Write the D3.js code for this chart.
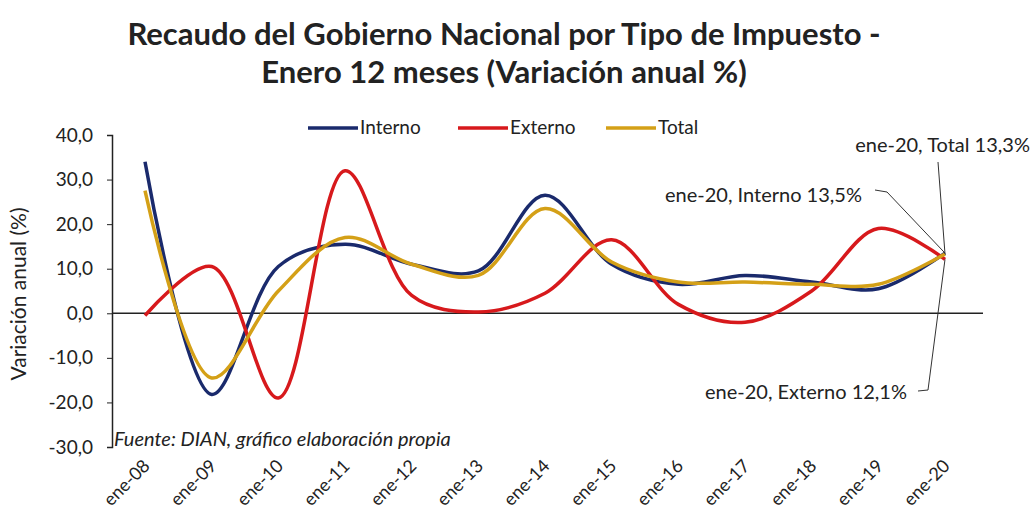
<!DOCTYPE html>
<html>
<head>
<meta charset="utf-8">
<script src="https://cdn.jsdelivr.net/npm/d3@7"></script>
<style>
  body { margin: 0; background: #fff; }
  svg text { font-family: Lato, "Open Sans", sans-serif; fill: #222; }
</style>
</head>
<body>
<div id="chart"></div>
<script>
var categories = ["ene-08","ene-09","ene-10","ene-11","ene-12","ene-13","ene-14","ene-15","ene-16","ene-17","ene-18","ene-19","ene-20"];
var interno = [34.0, -18.2, 10.5, 15.5, 11.0, 9.5, 26.5, 11.0, 6.5, 8.5, 7.0, 5.5, 13.5];
var externo = [-0.5, 10.5, -19.0, 32.0, 4.0, 0.3, 4.5, 16.5, 2.0, -2.0, 5.0, 19.0, 12.1];
var total = [27.5, -14.5, 5.0, 17.0, 11.0, 8.5, 23.5, 11.5, 7.0, 7.0, 6.5, 6.5, 13.3];
var yTicks = [40, 30, 20, 10, 0, -10, -20, -30];

var SERIES = [
  {name: "Interno", values: interno, color: "#1a2a6c"},
  {name: "Externo", values: externo, color: "#d7191c"},
  {name: "Total", values: total, color: "#d4a017"}
];

var W = 1034, H = 520;
var svg = d3.select("#chart").append("svg").attr("width", W).attr("height", H);

var x = d3.scalePoint().domain(categories).range([145, 945]);
var y = d3.scaleLinear().domain([-30, 40]).range([447, 135]);
var fmt = function(d){ return d3.format(".1f")(d).replace("\u2212", "-").replace(".", ","); };

// title
svg.append("text").attr("x", 504).attr("y", 45).attr("text-anchor", "middle")
  .style("font-size", "31px").style("font-weight", "bold")
  .text("Recaudo del Gobierno Nacional por Tipo de Impuesto -");
svg.append("text").attr("x", 504).attr("y", 83).attr("text-anchor", "middle")
  .style("font-size", "31px").style("font-weight", "bold")
  .text("Enero 12 meses (Variación anual %)");

// y axis
var yAxis = svg.append("g").attr("transform", "translate(112,0)")
  .call(d3.axisLeft(y).tickValues(yTicks).tickFormat(fmt).tickSize(5).tickPadding(14));
yAxis.select(".domain").attr("stroke", "#222").attr("stroke-width", 1.5);
yAxis.selectAll(".tick line").attr("stroke", "#222");
yAxis.selectAll("text").style("font-size", "19px").style("font-family", "Lato, sans-serif");

svg.append("text").attr("transform", "translate(26,294) rotate(-90)")
  .attr("text-anchor", "middle").style("font-size", "21px")
  .text("Variación anual (%)");

// zero line
svg.append("line").attr("x1", 112).attr("x2", 983).attr("y1", y(0)).attr("y2", y(0))
  .attr("stroke", "#222").attr("stroke-width", 1.5);

// x labels
svg.append("g").selectAll("text").data(categories).enter().append("text")
  .attr("transform", function(d){ return "translate(" + (x(d) + 6) + ",467) rotate(-45)"; })
  .attr("text-anchor", "end").style("font-size", "18px")
  .text(function(d){ return d; });

// lines
var line = d3.line().x(function(d, i){ return x(categories[i]); }).y(function(d){ return y(d); })
  .curve(d3.curveCatmullRom.alpha(0.5));
svg.append("g").selectAll("path").data(SERIES).enter().append("path")
  .attr("d", function(s){ return line(s.values); })
  .attr("fill", "none").attr("stroke", function(s){ return s.color; })
  .attr("stroke-width", 3.5);

// legend
var legX = [308, 458, 606];
var leg = svg.append("g").selectAll("g").data(SERIES).enter().append("g")
  .attr("transform", function(s, i){ return "translate(" + legX[i] + ",128)"; });
leg.append("line").attr("x1", 0).attr("x2", 50).attr("stroke", function(s){ return s.color; })
  .attr("stroke-width", 3.5);
leg.append("text").attr("x", 52).attr("y", 6).style("font-size", "19px").text(function(s){ return s.name; });

// source
svg.append("text").attr("x", 114).attr("y", 446).style("font-size", "20px").style("font-style", "italic")
  .text("Fuente: DIAN, gráfico elaboración propia");

// annotations
var last = categories[categories.length - 1];
var px = x(last);
var notes = [
  {text: "ene-20, Total 13,3%", v: total[12], tx: 1030, ty: 152, path: [[938, 162]]},
  {text: "ene-20, Interno 13,5%", v: interno[12], tx: 862, ty: 202, path: [[875, 190], [887, 192]]},
  {text: "ene-20, Externo 12,1%", v: externo[12], tx: 907, ty: 399, path: [[918, 391], [928, 390]]}
];
notes.forEach(function(n){
  svg.append("text").attr("x", n.tx).attr("y", n.ty).attr("text-anchor", "end")
    .style("font-size", "20px").text(n.text);
  var pts = n.path.concat([[px, y(n.v)]]);
  svg.append("path").attr("d", d3.line()(pts)).attr("fill", "none")
    .attr("stroke", "#333").attr("stroke-width", 1);
});
</script>
</body>
</html>
